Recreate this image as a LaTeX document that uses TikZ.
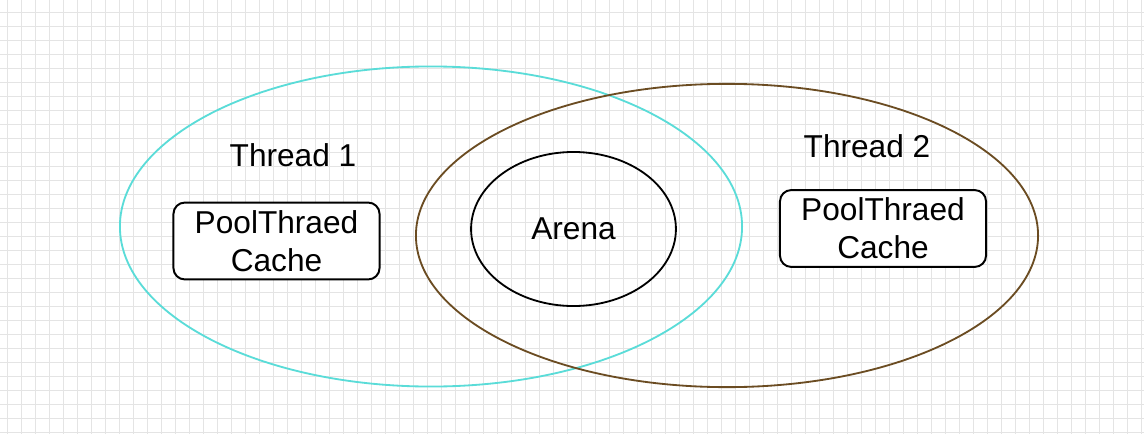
\documentclass[tikz,border=0pt]{standalone}
\usepackage{fontspec}
\setmainfont{Liberation Sans}
\usetikzlibrary{shapes.geometric}

\definecolor{threadone}{HTML}{5ADCD8}
\definecolor{threadtwo}{HTML}{6B4C22}
\definecolor{gridgray}{HTML}{E4E4E4}

\tikzset{
	oval/.style = {ellipse, draw, line width = 1.3pt, inner sep = 0pt},
	cachebox/.style = {draw, line width = 1.4pt, rounded corners = 8pt, align = center,
		minimum width = 5.15cm, minimum height = 1.92cm, fill = white, font = \fontsize{22.5}{27}\selectfont},
	label/.style = {font = \fontsize{22.5}{27}\selectfont}
}

\begin{document}
\begin{tikzpicture}[x = .025cm, y = -.025cm]
	\useasboundingbox (0,0) rectangle (1144,434);
	\fill [white] (0,0) rectangle (1144,434);
	\foreach \gx in {7,21,...,1144} \draw [gridgray, line width = .5pt] (\gx,0) -- (\gx,434);
	\foreach \gy in {12,26,...,434} \draw [gridgray, line width = .5pt] (0,\gy) -- (1144,\gy);

	\node [oval, threadone, minimum width = 15.55cm, minimum height = 8cm] (t1) at (431,226.5) {};
	\node [oval, threadtwo, minimum width = 15.55cm, minimum height = 7.58cm] (t2) at (727,235.5) {};
	\node [oval, black, minimum width = 5.12cm, minimum height = 3.85cm, label] (arena) at (573.5,229) {Arena};

	\node [label] (t1name) at (293,155) {Thread 1};
	\node [label] (t2name) at (867,146) {Thread 2};

	\node [cachebox] (cache1) at (276.5,241) {PoolThraed\\Cache};
	\node [cachebox] (cache2) at (883,228.5) {PoolThraed\\Cache};
\end{tikzpicture}
\end{document}
